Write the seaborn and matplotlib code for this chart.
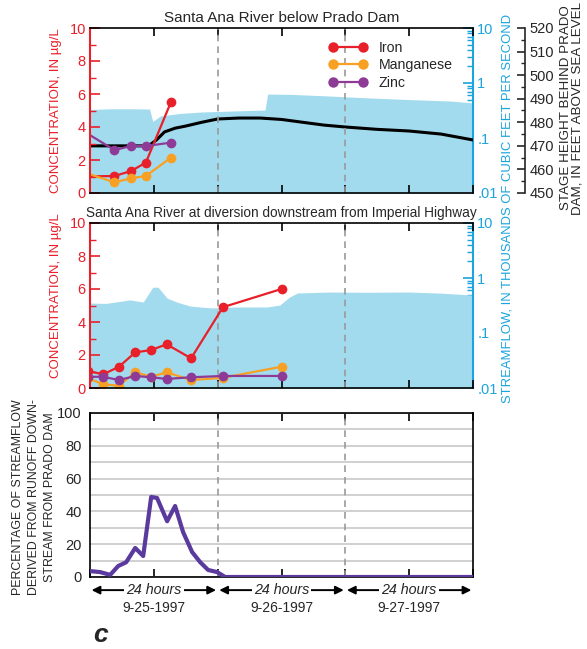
import numpy as np
import pandas as pd
import seaborn as sns
import matplotlib.pyplot as plt
from matplotlib import font_manager
from matplotlib.lines import Line2D
from matplotlib.ticker import MultipleLocator, FixedLocator, LogLocator, NullFormatter

# hours since the start of 9-25-1997
metals = ['Iron', 'Manganese', 'Zinc']
day_labels = ['9-25-1997', '9-26-1997', '9-27-1997']

# Santa Ana River below Prado Dam
top_hours = [4.6, 7.7, 10.5, 15.2]
top_iron = [1.03, 1.33, 1.84, 5.5]
top_mn = [0.65, 0.89, 1.03, 2.14]
top_zn = [2.6, 2.85, 2.85, 3.05]
top_lead_hour = -2
top_lead = [1.0, 1.34, 3.9]   # values running in from the left edge

top_flow_hours = [0, 4, 8, 11.2, 11.8, 12.4, 13.2, 17, 21, 27, 32.9, 33.4, 38, 45, 52.6, 60, 67.7, 72]
top_flow = [0.33, 0.34, 0.34, 0.336, 0.2, 0.22, 0.251, 0.28, 0.297, 0.31, 0.323, 0.63, 0.62, 0.58, 0.534, 0.5, 0.471, 0.433]

stage_hours = [0, 11, 12.5, 14, 16, 18, 21, 24, 28, 32, 36, 40, 44, 48, 54, 60, 66, 72]
stage = [470, 470, 472.5, 475.9, 477.5, 478.4, 480, 481.4, 481.8, 481.8, 481.2, 480, 478.8, 478, 477, 476.3, 475, 472.5]

# Santa Ana River at diversion downstream from Imperial Highway
mid_hours = [2.5, 5.45, 8.5, 11.5, 14.4, 19, 25, 36]
mid_iron = [0.83, 1.29, 2.16, 2.3, 2.65, 1.8, 4.9, 6.0]
mid_mn = [0.22, 0.14, 0.95, 0.68, 0.95, 0.48, 0.62, 1.29]
mid_zn = [0.68, 0.48, 0.73, 0.65, 0.55, 0.65, 0.73, 0.73]
mid_lead_hour = -0.4
mid_lead = [1.03, 0.6, 0.68]

mid_flow_hours = [0, 3, 6, 7.5, 10, 11.8, 12.8, 14.5, 16.5, 18.8, 21, 23.1, 27, 33.3, 35.7, 37.5, 39, 45, 52, 60, 66, 72]
mid_flow = [0.35, 0.345, 0.38, 0.4, 0.366, 0.68, 0.68, 0.43, 0.36, 0.31, 0.295, 0.285, 0.297, 0.297, 0.323, 0.45, 0.534, 0.556, 0.55, 0.556, 0.53, 0.49]

# percentage of streamflow from runoff downstream from Prado Dam
pct_hours = [0, 1.9, 3.8, 5.3, 6.8, 8.5, 10, 11.5, 12.6, 14.5, 16, 17.5, 19.2, 20.7, 22.2, 23.9, 25.4, 72]
pct = [3.6, 3, 1.3, 6.7, 9, 17.7, 12.8, 48.8, 48.2, 34, 43.3, 27.4, 15.2, 9.1, 4.3, 3, 0, 0]

RED = '#e8202a'
ORANGE = '#f7a023'
PURPLE = '#8e3b98'
BLUE = '#1ba4dd'
FILL = '#a3dbee'
LINE3 = '#5b3a9e'
palette = dict(zip(metals, [RED, ORANGE, PURPLE]))
TICK_FS = 10.5

sns.set_style('white')
names = {f.name for f in font_manager.fontManager.ttflist}
main_font = 'Liberation Sans Narrow' if 'Liberation Sans Narrow' in names else 'Liberation Sans'
plt.rcParams['font.family'] = [main_font, 'DejaVu Sans']


def long_form(hours, series, lead_hour, lead):
    rows = []
    for m, vals, l0 in zip(metals, series, lead):
        rows.append(pd.DataFrame({'hours': [lead_hour] + list(hours), 'conc': [l0] + list(vals), 'metal': m}))
    return pd.concat(rows, ignore_index=True)


def style_time_axis(ax):
    ax.set_xlim(0, 72)
    ax.xaxis.set_major_locator(MultipleLocator(12))
    ax.tick_params(axis='x', direction='in', top=True, bottom=True, length=6, width=1.2,
                   labelbottom=False, color='black')
    for d in (24, 48):
        ax.axvline(d, color='#9a9a9a', lw=1.2, ls=(0, (4, 3)), zorder=1)
    for s in ('top', 'bottom'):
        ax.spines[s].set_color('black')
        ax.spines[s].set_linewidth(1.2)
    ax.set_xlabel('')


def conc_panel(rect, df, flow_hours, flow):
    ax = fig.add_axes(rect)
    axf = ax.twinx()
    axf.fill_between(flow_hours, 0.001, flow, color=FILL, lw=0)
    axf.set_yscale('log')
    axf.set_ylim(0.01, 10)
    axf.yaxis.set_major_locator(FixedLocator([0.01, 0.1, 1, 10]))
    axf.set_yticklabels(['.01', '.1', '1', '10'])
    axf.yaxis.set_minor_locator(LogLocator(base=10, subs=np.arange(2, 10)))
    axf.yaxis.set_minor_formatter(NullFormatter())
    axf.tick_params(axis='y', which='major', direction='in', length=7, width=1.2,
                    color=BLUE, labelcolor=BLUE, labelsize=TICK_FS, pad=3)
    axf.tick_params(axis='y', which='minor', direction='in', length=4, width=1, color=BLUE)
    for s in ('left', 'top', 'bottom'):
        axf.spines[s].set_visible(False)
    axf.spines['right'].set_color(BLUE)
    axf.spines['right'].set_linewidth(1.5)
    axf.set_zorder(1)

    sns.lineplot(data=df, x='hours', y='conc', hue='metal', palette=palette, ax=ax,
                 marker='o', markersize=7, markeredgewidth=0, linewidth=1.6, legend=False)
    ax.set_zorder(3)
    ax.patch.set_visible(False)
    ax.set_ylim(0, 10)
    ax.yaxis.set_major_locator(MultipleLocator(2))
    ax.yaxis.set_minor_locator(MultipleLocator(1))
    ax.tick_params(axis='y', which='major', direction='in', length=7, width=1.2,
                   color=RED, labelcolor=RED, labelsize=TICK_FS, pad=3)
    ax.tick_params(axis='y', which='minor', direction='in', length=4, width=1, color=RED)
    ax.spines['left'].set_color(RED)
    ax.spines['left'].set_linewidth(1.5)
    ax.spines['right'].set_visible(False)
    ax.set_ylabel('')
    style_time_axis(ax)
    return ax, axf


fig = plt.figure(figsize=(5.87, 6.49), dpi=100)
fig.patch.set_facecolor('white')

W, H = 587, 649
left, width = 90 / W, 383 / W

# ---- top panel ----
df_top = long_form(top_hours, [top_iron, top_mn, top_zn], top_lead_hour, top_lead)
ax1, ax1f = conc_panel([left, 1 - 193 / H, width, 165 / H], df_top, top_flow_hours, top_flow)
ax1.set_title('Santa Ana River below Prado Dam', fontsize=11, pad=4)

ax1s = ax1.twinx()
sns.lineplot(x=stage_hours, y=stage, ax=ax1s, color='black', linewidth=2.2)
ax1s.set_ylim(450, 520)
ax1s.spines['right'].set_position(('axes', 1.136))
for s in ('left', 'top', 'bottom'):
    ax1s.spines[s].set_visible(False)
ax1s.spines['right'].set_linewidth(1.2)
ax1s.yaxis.set_major_locator(MultipleLocator(10))
ax1s.yaxis.set_minor_locator(MultipleLocator(5))
ax1s.tick_params(axis='y', which='major', direction='in', length=6, width=1.2, labelsize=TICK_FS, pad=3)
ax1s.tick_params(axis='y', which='minor', direction='in', length=3, width=1)
ax1s.set_zorder(2)
ax1s.patch.set_visible(False)

handles = [Line2D([0, 1], [0, 0], color=palette[m], lw=1.6, marker='o', ms=7.5,
                  markeredgewidth=0, markevery=[1]) for m in metals]
ax1.legend(handles, metals, loc='upper left', bbox_to_anchor=(0.605, 0.965), frameon=False,
           numpoints=2, handlelength=2.7, handletextpad=0.8, labelspacing=0.25,
           borderpad=0, fontsize=10.2)

# ---- middle panel ----
df_mid = long_form(mid_hours, [mid_iron, mid_mn, mid_zn], mid_lead_hour, mid_lead)
ax2, ax2f = conc_panel([left, 1 - 388 / H, width, 165 / H], df_mid, mid_flow_hours, mid_flow)
ax2.set_title('Santa Ana River at diversion downstream from Imperial Highway', fontsize=9.8, pad=4)

# ---- bottom panel ----
ax3 = fig.add_axes([left, 1 - 577 / H, width, 164 / H])
sns.lineplot(x=pct_hours, y=pct, ax=ax3, color=LINE3, linewidth=3, zorder=4)
ax3.set_ylim(0, 100)
ax3.yaxis.set_major_locator(MultipleLocator(20))
ax3.yaxis.set_minor_locator(MultipleLocator(10))
ax3.grid(axis='y', which='both', color='#c8c8c8', lw=1.2, zorder=0)
ax3.tick_params(axis='y', which='both', length=0, labelsize=TICK_FS, pad=6)
for s in ('left', 'right'):
    ax3.spines[s].set_color('black')
    ax3.spines[s].set_linewidth(1.2)
style_time_axis(ax3)
ax3.set_axisbelow(True)

for d in range(3):
    ax3.annotate('', xy=(24 * d + 0.3, -0.08), xytext=(24 * d + 23.7, -0.08),
                 xycoords=('data', 'axes fraction'), textcoords=('data', 'axes fraction'),
                 arrowprops=dict(arrowstyle='<|-|>', color='black', lw=1.4,
                                 mutation_scale=12, shrinkA=0, shrinkB=0))
    ax3.text(24 * d + 12, -0.08, '24 hours', transform=ax3.get_xaxis_transform(),
             ha='center', va='center', style='italic', fontsize=10.3, zorder=5,
             bbox=dict(fc='white', ec='none', pad=1.5))
    ax3.text(24 * d + 12, -0.19, day_labels[d], transform=ax3.get_xaxis_transform(),
             ha='center', va='center', fontsize=10)

# ---- axis titles ----
fig.text(56 / W, 1 - 111 / H, 'CONCENTRATION, IN µg/L', rotation=90, ha='center', va='center',
         color=RED, fontsize=9.5)
fig.text(56 / W, 1 - 296 / H, 'CONCENTRATION, IN µg/L', rotation=90, ha='center', va='center',
         color=RED, fontsize=9.5)
fig.text(507 / W, 1 - 208 / H, 'STREAMFLOW, IN THOUSANDS OF CUBIC FEET PER SECOND', rotation=90,
         ha='center', va='center', color=BLUE, fontsize=9.4)
fig.text(572 / W, 1 - 108 / H, 'STAGE HEIGHT BEHIND PRADO\nDAM, IN FEET ABOVE SEA LEVEL', rotation=90,
         ha='center', va='center', fontsize=9.6, linespacing=1.0)
fig.text(34 / W, 1 - 497 / H, 'PERCENTAGE OF STREAMFLOW\nDERIVED FROM RUNOFF DOWN-\nSTREAM FROM PRADO DAM',
         rotation=90, ha='center', va='center', fontsize=8.9, linespacing=1.45)
fig.text(100 / W, 1 - 647 / H, 'c', ha='center', va='bottom', fontsize=19,
         fontweight='bold', style='italic', family=['Liberation Sans', 'DejaVu Sans'])

fig.savefig('out.png', dpi=100, facecolor='white')
